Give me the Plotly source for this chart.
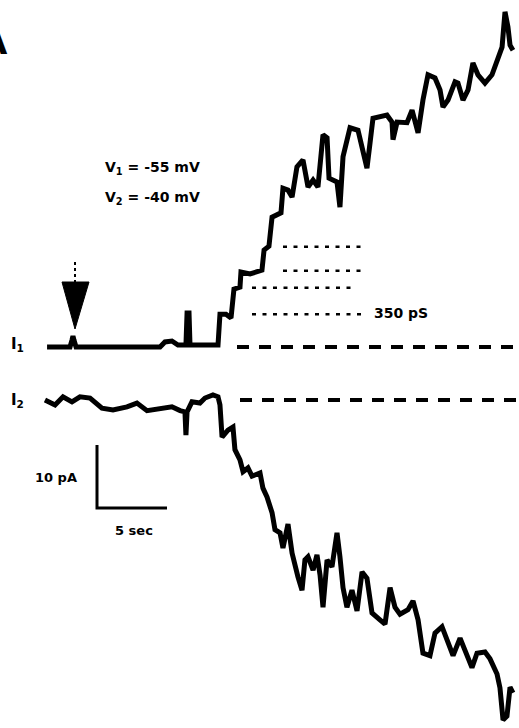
import plotly.graph_objects as go

# ---- data (time in s, current in pA) ----
# I1 trace, current relative to its own baseline (upward = positive)
t1 = [-0.21, 1.43, 1.57, 1.64, 1.71, 1.86, 7.86, 8.21, 8.71, 9.14, 9.71, 9.79, 9.93, 10.0,
      12.0, 12.14, 12.57, 12.93, 13.14, 13.57, 13.64, 14.29, 15.14, 15.29, 15.64, 15.86,
      16.5, 16.64, 17.0, 17.29, 17.64, 18.07, 18.43, 18.79, 19.14, 19.5, 19.79, 19.93,
      20.5, 20.71, 20.93, 21.43, 22.0, 22.29, 22.64, 22.86, 23.07, 24.07, 24.43, 24.5,
      24.79, 25.5, 25.86, 26.29, 26.64, 27.0, 27.5, 27.86, 28.07, 28.43, 28.93, 29.14,
      29.5, 29.86, 30.21, 30.57, 31.07, 31.57, 31.93, 32.29, 32.5, 32.71, 32.86, 33.07]
i1 = [0, 0, 1.1, 1.75, 1.1, 0, 0, 0.8, 0.95, 0.3, 0.3, 5.4, 5.4, 0.3,
      0.3, 5.2, 5.2, 4.6, 9.2, 9.5, 11.9, 11.6, 12.2, 15.4, 16.0, 20.6,
      21.3, 25.2, 24.9, 23.8, 28.6, 29.7, 25.4, 26.5, 25.4, 33.7, 33.2, 26.8,
      26.2, 22.2, 30.2, 34.8, 34.4, 31.7, 28.4, 32.4, 36.3, 36.8, 35.7, 32.9,
      35.7, 35.6, 37.6, 34.0, 39.2, 43.2, 42.7, 40.8, 38.1, 39.2, 42.1, 41.9,
      39.2, 40.8, 45.1, 43.2, 41.9, 43.2, 45.6, 47.6, 53.2, 50.8, 47.9, 47.1]

# I2 trace, current relative to its own baseline (downward = negative)
t2 = [-0.36, 0.36, 0.93, 1.57, 2.14, 2.86, 3.71, 4.5, 5.5, 6.21, 6.93, 7.86, 8.71, 9.29,
      9.64, 9.71, 9.79, 10.14, 10.71, 11.07, 11.64, 12.0, 12.14, 12.29, 12.71, 13.07,
      13.21, 13.57, 13.79, 14.14, 14.43, 15.0, 15.21, 15.5, 15.86, 16.07, 16.43, 16.64,
      17.0, 17.29, 17.5, 17.71, 18.0, 18.21, 18.43, 18.79, 19.07, 19.29, 19.5, 19.79,
      20.14, 20.5, 20.71, 20.93, 21.21, 21.57, 21.93, 22.29, 22.64, 23.0, 23.57, 23.93,
      24.29, 24.64, 25.0, 25.57, 25.93, 26.29, 26.64, 27.14, 27.5, 28.0, 28.36, 28.79,
      29.29, 29.79, 30.14, 30.5, 31.07, 31.43, 31.93, 32.14, 32.36, 32.64, 32.86, 33.07]
i2 = [0, -0.8, 0.5, -0.3, 0.5, 0.3, -1.3, -1.6, -1.1, -0.5, -1.7, -1.3, -1.1, -1.7,
      -1.9, -5.6, -1.9, -0.3, -0.5, 0.3, 0.8, 0.5, -0.8, -5.9, -4.8, -4.3,
      -7.9, -9.5, -11.4, -10.8, -12.1, -11.6, -14.0, -15.4, -17.9, -20.6, -21.1, -23.5,
      -19.7, -24.3, -26.5, -28.1, -30.2, -25.4, -24.9, -27.0, -24.6, -27.8, -32.9, -25.4,
      -26.5, -21.1, -24.9, -29.8, -32.9, -30.2, -33.5, -27.3, -28.3, -33.8, -34.9, -35.6,
      -29.8, -32.9, -34.0, -33.3, -31.9, -34.9, -40.2, -40.6, -37.0, -36.0, -38.1, -40.6,
      -37.8, -40.6, -42.5, -40.2, -40.0, -41.1, -43.5, -45.7, -50.8, -50.2, -45.6, -46.5]

# single-channel levels (pA above I1 baseline) marked by dotted lines
levels_pA = [5.2, 9.4, 12.1, 15.9]
I2_OFFSET = -8.4          # vertical offset of the I2 trace (pA)
SCALE_T, SCALE_I = 5, 10  # scale bar: 5 sec, 10 pA

# ---- geometry (page pixels -> data units) ----
W, H = 519, 728
PX_PER_S, PX_PER_PA = 14.0, 6.3
X0, Y0 = 50, 347


def tx(px):
    return (px - X0) / PX_PER_S


def vy(py):
    return (Y0 - py) / PX_PER_PA


fig = go.Figure()
fig.add_trace(go.Scatter(x=t1, y=i1, mode="lines",
                         line=dict(color="black", width=5), hoverinfo="skip"))
fig.add_trace(go.Scatter(x=t2, y=[v + I2_OFFSET for v in i2], mode="lines",
                         line=dict(color="black", width=5), hoverinfo="skip"))

# scale bar
sx, sy = tx(97), vy(508)
fig.add_trace(go.Scatter(x=[sx, sx, sx + SCALE_T], y=[sy + SCALE_I, sy, sy], mode="lines",
                         line=dict(color="black", width=3), hoverinfo="skip"))

shapes = []
# dashed baselines
shapes.append(dict(type="line", xref="x", yref="y", x0=tx(237), x1=tx(514), y0=0, y1=0,
                   line=dict(color="black", width=4, dash="12px,10px")))
shapes.append(dict(type="line", xref="x", yref="y", x0=tx(240), x1=tx(516),
                   y0=I2_OFFSET, y1=I2_OFFSET,
                   line=dict(color="black", width=4, dash="12px,10px")))
# dotted level lines
level_spans = [(252, 363), (252, 355), (283, 365), (283, 363)]
for lv, (a, b) in zip(levels_pA, level_spans):
    shapes.append(dict(type="line", xref="x", yref="y", x0=tx(a), x1=tx(b), y0=lv, y1=lv,
                       line=dict(color="black", width=2.5, dash="4px,6.5px")))
# arrow marker (filled triangle + dotted stem)
shapes.append(dict(type="path", xref="x", yref="y",
                   path=f"M {tx(62)},{vy(282)} L {tx(89)},{vy(282)} L {tx(75)},{vy(329)} Z",
                   fillcolor="black", line=dict(color="black", width=1)))
shapes.append(dict(type="line", xref="x", yref="y", x0=tx(75), x1=tx(75),
                   y0=vy(262), y1=vy(283),
                   line=dict(color="black", width=2, dash="3px,3px")))

font = dict(family="DejaVu Sans", color="black", size=14, weight="bold")


def ann(text, px, py, size=14, xanchor="center"):
    return dict(text=text, xref="paper", yref="paper", x=px / W, y=1 - py / H,
                showarrow=False, xanchor=xanchor, yanchor="middle",
                font=dict(font, size=size))


annotations = [
    ann("V<sub>1</sub> = -55 mV", 103, 168, xanchor="left"),
    ann("V<sub>2</sub> = -40 mV", 103, 198, xanchor="left"),
    ann("350 pS", 372, 313, xanchor="left"),
    ann("10 pA", 56, 477, size=13),
    ann("5 sec", 134, 530, size=13),
    ann("I<sub>1</sub>", 18, 344, size=15),
    ann("I<sub>2</sub>", 18, 400, size=15),
    ann("A", -6, 42, size=34),
]

fig.update_layout(
    width=W, height=H, autosize=False,
    margin=dict(l=0, r=0, t=0, b=0),
    paper_bgcolor="white", plot_bgcolor="white",
    showlegend=False,
    xaxis=dict(visible=False, range=[tx(0), tx(W)], fixedrange=True),
    yaxis=dict(visible=False, range=[vy(H), vy(0)], fixedrange=True),
    shapes=shapes,
    annotations=annotations,
)

fig.write_html("out.html", config={"displayModeBar": False})
